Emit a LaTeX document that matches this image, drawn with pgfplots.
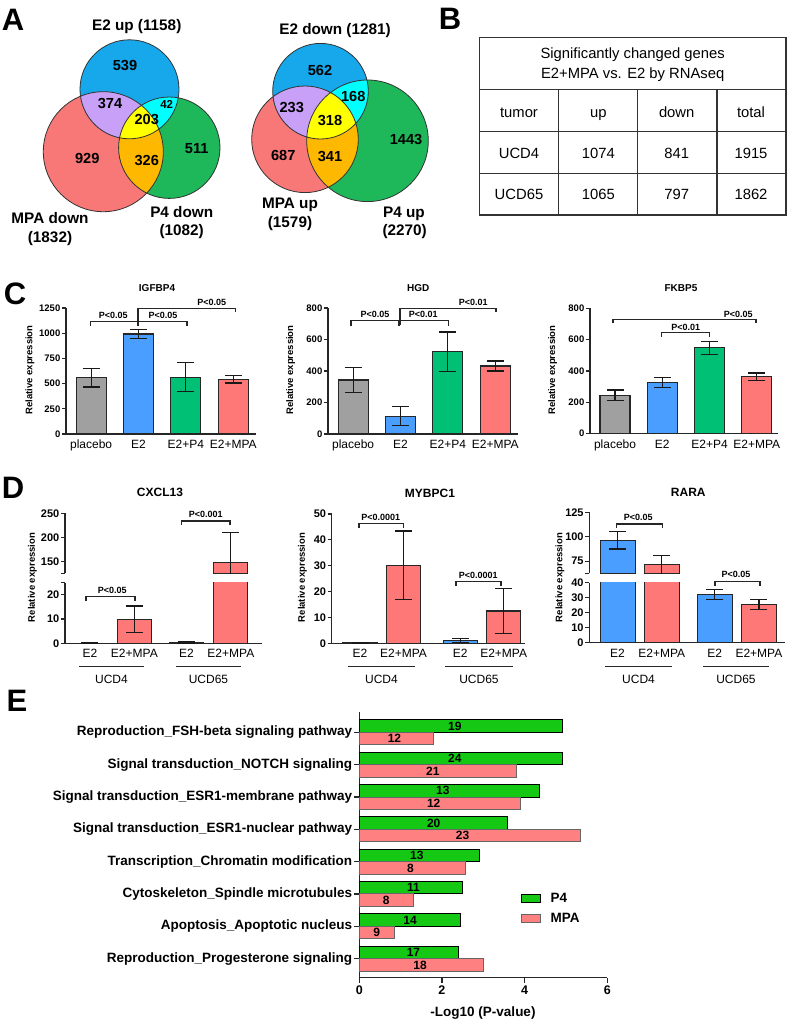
\documentclass[border=0pt]{standalone}
\usepackage{pgfplots}
\pgfplotsset{compat=1.18}
\usepackage{fontspec}
\setmainfont{Liberation Sans}
\definecolor{cgrey}{RGB}{160,160,160}
\definecolor{cblue}{RGB}{74,158,255}
\definecolor{cgreen}{RGB}{0,192,118}
\definecolor{csal}{RGB}{255,120,120}
\definecolor{egreen}{RGB}{20,200,20}
\definecolor{esal}{RGB}{255,128,128}
\definecolor{vblue}{RGB}{23,168,236}
\definecolor{vsal}{RGB}{248,120,120}
\definecolor{vgreen}{RGB}{30,184,90}
\definecolor{vpurple}{RGB}{200,160,248}
\definecolor{vyellow}{RGB}{255,255,0}
\definecolor{vcyan}{RGB}{0,255,255}
\definecolor{vorange}{RGB}{255,184,0}
\newcommand{\fz}[1]{\fontsize{#1}{#1}\selectfont}

\pgfplotsset{
 gp/.style={
  scale only axis, anchor=south west,
  axis x line*=bottom, axis y line*=left,
  axis line style={-, line width=1.4pt, black!85},
  ytick style={line width=1.2pt, black!85},
  xtick style={draw=none},
  tick align=outside, major tick length=4pt,
  /pgf/number format/assume math mode=true,
  /pgf/number format/1000 sep={},
  yticklabel style={font=\bfseries\fz{9.5}, inner sep=1.5pt},
  xticklabel style={font=\fz{12}, inner sep=2pt},
  enlargelimits=false, clip mode=individual,
 },
 gpd/.style={gp, yticklabel style={font=\bfseries\fz{11}, inner sep=1.5pt}},
 gbar/.style={ybar, bar width=#1, draw=black!85, line width=1.1pt,
   /pgfplots/error bars/y dir=both, /pgfplots/error bars/y explicit,
   /pgfplots/error bars/error bar style={line width=1.2pt, black!90},
   /pgfplots/error bars/error mark options={rotate=90, mark size=8.5pt, line width=1.2pt, black!90}},
}

\newcommand{\brk}[5]{\draw[line width=1.1pt, black!85] (#1,#3+#4) -- (#1,#3) -- (#2,#3) -- (#2,#3+#5);}
% text node: [font extras]{x}{y of cap centre}{size}{text}
\newcommand{\T}[5][]{\node[anchor=base, inner sep=0pt, font={#1\fz{#4}}] at (#2,#3+0.358*#4) {#5};}
\newcommand{\plab}[3]{\T[\bfseries]{#1}{#2}{9}{#3}}

\begin{document}
\begin{tikzpicture}
\begin{scope}[x=1pt,y=-1pt]
\useasboundingbox (0,0) rectangle (787,1020);
% panel letters
\T[\bfseries]{13}{19}{31}{A}
\T[\bfseries]{450}{18.5}{31}{B}
\T[\bfseries]{15}{293}{31}{C}
\T[\bfseries]{13}{487.5}{31}{D}
\T[\bfseries]{17}{700}{31}{E}

% ---------- Venn 1
\fill[vsal] (103.3,151.7) circle (60pt);
\fill[vgreen] (169.3,147.7) circle (50.7pt);
\fill[vblue] (129.5,89.3) circle (49.5pt);
\begin{scope}\clip (129.5,89.3) circle (49.5pt); \fill[vpurple] (103.3,151.7) circle (60pt); \end{scope}
\begin{scope}\clip (129.5,89.3) circle (49.5pt); \fill[vcyan] (169.3,147.7) circle (50.7pt); \end{scope}
\begin{scope}\clip (103.3,151.7) circle (60pt); \fill[vorange] (169.3,147.7) circle (50.7pt); \end{scope}
\begin{scope}\clip (129.5,89.3) circle (49.5pt); \clip (103.3,151.7) circle (60pt); \fill[vyellow] (169.3,147.7) circle (50.7pt); \end{scope}
\draw[line width=0.8pt, black!80] (103.3,151.7) circle (60pt) (169.3,147.7) circle (50.7pt) (129.5,89.3) circle (49.5pt);
\T[\bfseries]{125}{65}{14.6}{539} \T[\bfseries]{110}{103.3}{14.6}{374} \T[\bfseries]{166.7}{104}{11.5}{42}
\T[\bfseries]{146.7}{119}{14.6}{203} \T[\bfseries]{87.3}{158.3}{14.6}{929} \T[\bfseries]{146.7}{160}{14.6}{326}
\T[\bfseries]{196.7}{148.3}{14.6}{511}
\T[\bfseries]{136.7}{25}{15.3}{E2 up (1158)}
\T[\bfseries]{50}{218.3}{15.3}{MPA down} \T[\bfseries]{50}{237.3}{15.3}{(1832)}
\T[\bfseries]{181.7}{211.7}{15.3}{P4 down} \T[\bfseries]{181.7}{230}{15.3}{(1082)}

% ---------- Venn 2
\fill[vsal] (305,139.3) circle (53.3pt);
\fill[vgreen] (367.5,140.8) circle (60.8pt);
\fill[vblue] (320.5,91.2) circle (47.8pt);
\begin{scope}\clip (320.5,91.2) circle (47.8pt); \fill[vpurple] (305,139.3) circle (53.3pt); \end{scope}
\begin{scope}\clip (320.5,91.2) circle (47.8pt); \fill[vcyan] (367.5,140.8) circle (60.8pt); \end{scope}
\begin{scope}\clip (305,139.3) circle (53.3pt); \fill[vorange] (367.5,140.8) circle (60.8pt); \end{scope}
\begin{scope}\clip (320.5,91.2) circle (47.8pt); \clip (305,139.3) circle (53.3pt); \fill[vyellow] (367.5,140.8) circle (60.8pt); \end{scope}
\draw[line width=0.8pt, black!80] (305,139.3) circle (53.3pt) (367.5,140.8) circle (60.8pt) (320.5,91.2) circle (47.8pt);
\T[\bfseries]{320}{70}{14.6}{562} \T[\bfseries]{353.3}{96.7}{14.6}{168} \T[\bfseries]{291.7}{107.3}{14.6}{233}
\T[\bfseries]{330}{120}{14.6}{318} \T[\bfseries]{406}{139}{14.6}{1443} \T[\bfseries]{283.3}{155}{14.6}{687}
\T[\bfseries]{330}{156.7}{14.6}{341}
\T[\bfseries]{335}{29.3}{15.3}{E2 down (1281)}
\T[\bfseries]{290}{203.3}{15.3}{MPA up} \T[\bfseries]{290}{221.7}{15.3}{(1579)}
\T[\bfseries]{404}{211.7}{15.3}{P4 up} \T[\bfseries]{404.7}{230}{15.3}{(2270)}

% ---------- Table B
\draw[line width=1.3pt, black!80] (479.3,37.7) rectangle (786,215);
\draw[line width=1.3pt, black!80] (479.3,89.3) -- (786,89.3) (479.3,131.7) -- (786,131.7) (479.3,173.3) -- (786,173.3)
  (558.7,89.3) -- (558.7,215) (637.7,89.3) -- (637.7,215) (717,89.3) -- (717,215);
\T{632.7}{53.3}{14.8}{Significantly changed genes}
\T{632.7}{73.3}{14.8}{E2+MPA vs. E2 by RNAseq}
\T{519}{111.7}{14.8}{tumor} \T{598.3}{111.7}{14.8}{up} \T{676.7}{111.7}{14.8}{down} \T{751}{111.7}{14.8}{total}
\T{519}{153.3}{14.8}{UCD4} \T{598.3}{153.3}{14.8}{1074} \T{676.7}{153.3}{14.8}{841} \T{751}{153.3}{14.8}{1915}
\T{519}{194.3}{14.8}{UCD65} \T{598.3}{194.3}{14.8}{1065} \T{676.7}{194.3}{14.8}{797} \T{751}{194.3}{14.8}{1862}
\end{scope}

% ---------- Panel C
\begin{axis}[gp, at={(66pt,-434pt)}, width=190pt, height=126pt, xmin=-0.53, xmax=3.48,
  ymin=0, ymax=1250, ytick={0,250,...,1250}, xtick={0,1,2,3}, xticklabels={placebo,E2,E2+P4,E2+MPA}]
\addplot[fill=cgrey, gbar=30pt] coordinates {(0,558) +- (0,92)};
\addplot[fill=cblue, gbar=30pt] coordinates {(1,992) +- (0,47)};
\addplot[fill=cgreen, gbar=30pt] coordinates {(2,565) +- (0,145)};
\addplot[fill=csal, gbar=30pt] coordinates {(3,542) +- (0,36)};
\end{axis}
\begin{axis}[gp, at={(328pt,-434pt)}, width=190pt, height=126pt, xmin=-0.53, xmax=3.48,
  ymin=0, ymax=800, ytick={0,200,...,800}, xtick={0,1,2,3}, xticklabels={placebo,E2,E2+P4,E2+MPA}]
\addplot[fill=cgrey, gbar=30pt] coordinates {(0,343) +- (0,79)};
\addplot[fill=cblue, gbar=30pt] coordinates {(1,114) +- (0,60)};
\addplot[fill=cgreen, gbar=30pt] coordinates {(2,523) +- (0,125)};
\addplot[fill=csal, gbar=30pt] coordinates {(3,432) +- (0,32)};
\end{axis}
\begin{axis}[gp, at={(590pt,-433.5pt)}, width=188pt, height=125.2pt, xmin=-0.53, xmax=3.45,
  ymin=0, ymax=800, ytick={0,200,...,800}, xtick={0,1,2,3}, xticklabels={placebo,E2,E2+P4,E2+MPA}]
\addplot[fill=cgrey, gbar=30pt] coordinates {(0,245) +- (0,33)};
\addplot[fill=cblue, gbar=30pt] coordinates {(1,324) +- (0,32)};
\addplot[fill=cgreen, gbar=30pt] coordinates {(2,548) +- (0,42)};
\addplot[fill=csal, gbar=30pt] coordinates {(3,362) +- (0,25)};
\end{axis}

% ---------- Panel D: CXCL13 (broken axis)
\begin{axis}[gpd, at={(65pt,-643.3pt)}, width=197pt, height=60.6pt, xmin=-0.56, xmax=3.87,
  ymin=0, ymax=25, ytick={0,10,20}, extra y ticks={25}, extra y tick labels={},
  xtick={0,1,2.17,3.17}, xticklabels={E2,E2+MPA,E2,E2+MPA}]
\addplot[fill=cblue, gbar=34pt] coordinates {(0,0.05) +- (0,0.05)};
\addplot[fill=csal, gbar=34pt] coordinates {(1,9.9) +- (0,5.5)};
\addplot[fill=cblue, gbar=34pt] coordinates {(2.17,0.2) +- (0,0.3)};
\addplot[fill=csal, gbar=34pt] coordinates {(3.17,147) +- (0,63)};
\end{axis}
\begin{axis}[gpd, at={(65pt,-573.3pt)}, width=197pt, height=60pt, xmin=-0.56, xmax=3.87,
  ymin=125, ymax=250, ytick={150,200,250}, extra y ticks={125}, extra y tick labels={}, hide x axis]
\addplot[fill=csal, gbar=34pt] coordinates {(3.17,147) +- (0,63)};
\end{axis}
% MYBPC1
\begin{axis}[gpd, at={(331.7pt,-643.3pt)}, width=193.3pt, height=129.3pt, xmin=-0.65, xmax=3.79,
  ymin=0, ymax=50, ytick={0,10,...,50}, xtick={0,1,2.3,3.3}, xticklabels={E2,E2+MPA,E2,E2+MPA}]
\addplot[fill=cblue, gbar=34pt] coordinates {(0,0.1) +- (0,0.2)};
\addplot[fill=csal, gbar=34pt] coordinates {(1,30.2) +- (0,13.2)};
\addplot[fill=cblue, gbar=34pt] coordinates {(2.3,1.0) +- (0,0.8)};
\addplot[fill=csal, gbar=34pt] coordinates {(3.3,12.5) +- (0,8.6)};
\end{axis}
% RARA (broken axis)
\begin{axis}[gpd, at={(589.3pt,-642.7pt)}, width=195.7pt, height=60pt, xmin=-0.64, xmax=3.79,
  ymin=0, ymax=40, ytick={0,10,...,40},
  xtick={0,1,2.2,3.2}, xticklabels={E2,E2+MPA,E2,E2+MPA}]
\addplot[fill=cblue, gbar=35pt] coordinates {(0,95.9) += (0,9.6) -= (0,8.5)};
\addplot[fill=csal, gbar=35pt] coordinates {(1,71.2) +- (0,9.6)};
\addplot[fill=cblue, gbar=35pt] coordinates {(2.2,32) += (0,3.3) -= (0,3.1)};
\addplot[fill=csal, gbar=35pt] coordinates {(3.2,25.4) +- (0,3.2)};
\end{axis}
\begin{axis}[gpd, at={(589.3pt,-573.3pt)}, width=195.7pt, height=61pt, xmin=-0.64, xmax=3.79,
  ymin=62.5, ymax=125, ytick={75,100,125}, extra y ticks={62.5}, extra y tick labels={}, hide x axis]
\addplot[fill=cblue, gbar=35pt] coordinates {(0,95.9) += (0,9.6) -= (0,8.5)};
\addplot[fill=csal, gbar=35pt] coordinates {(1,71.2) +- (0,9.6)};
\end{axis}

% ---------- Panel E
\begin{axis}[scale only axis, anchor=south west, at={(359.3pt,-977.7pt)}, width=248pt, height=265.4pt,
  xmin=0, xmax=6, ymin=-0.59, ymax=7.62, enlargelimits=false, clip=false,
  axis x line*=bottom, axis y line*=left,
  axis line style={-, line width=1.4pt, black!85},
  tick style={line width=1.2pt, black!85}, tick align=outside, major tick length=5pt,
  xtick={0,2,4,6}, ytick={0,...,7},
  yticklabels={Reproduction\_Progesterone signaling, Apoptosis\_Apoptotic nucleus, Cytoskeleton\_Spindle microtubules, Transcription\_Chromatin modification, Signal transduction\_ESR1-nuclear pathway, Signal transduction\_ESR1-membrane pathway, Signal transduction\_NOTCH signaling, Reproduction\_FSH-beta signaling pathway},
  yticklabel style={font=\bfseries\fz{13.5}, inner sep=2pt},
  xticklabel style={font=\bfseries\fz{12.5}},
  /pgf/number format/assume math mode=true,
  legend style={at={(axis description cs:0.652,0.326)}, anchor=north west, draw=none, fill=none,
    font=\bfseries\fz{13.5}, row sep=5pt, inner sep=0pt, /tikz/every odd column/.append style={column sep=8pt}},
  legend cell align=left,
  legend image code/.code={\draw[#1] (0pt,-4.2pt) rectangle (18.4pt,4.2pt);}]
\addplot[xbar, bar width=12.5pt, bar shift=6.25pt, fill=egreen, draw=black, line width=1pt]
  coordinates {(4.91,7) (4.91,6) (4.36,5) (3.58,4) (2.91,3) (2.49,2) (2.46,1) (2.40,0)};
\addlegendentry{P4}
\addplot[xbar, bar width=12.5pt, bar shift=-6.25pt, fill=esal, draw=black!60, line width=1pt]
  coordinates {(1.79,7) (3.80,6) (3.91,5) (5.35,4) (2.58,3) (1.30,2) (0.85,1) (3.00,0)};
\addlegendentry{MPA}
\begin{scope}[every node/.style={font=\bfseries\fz{12}}]
\node[yshift=6.25pt] at (axis cs:2.31,7) {19};
\node[yshift=6.25pt] at (axis cs:2.31,6) {24};
\node[yshift=6.25pt] at (axis cs:2.02,5) {13};
\node[yshift=6.25pt] at (axis cs:1.80,4) {20};
\node[yshift=6.25pt] at (axis cs:1.39,3) {13};
\node[yshift=6.25pt] at (axis cs:1.31,2) {11};
\node[yshift=6.25pt] at (axis cs:1.23,1) {14};
\node[yshift=6.25pt] at (axis cs:1.31,0) {17};
\node[yshift=-6.25pt] at (axis cs:0.85,7) {12};
\node[yshift=-6.25pt] at (axis cs:1.78,6) {21};
\node[yshift=-6.25pt] at (axis cs:1.80,5) {12};
\node[yshift=-6.25pt] at (axis cs:2.50,4) {23};
\node[yshift=-6.25pt] at (axis cs:1.24,3) {8};
\node[yshift=-6.25pt] at (axis cs:0.65,2) {8};
\node[yshift=-6.25pt] at (axis cs:0.42,1) {9};
\node[yshift=-6.25pt] at (axis cs:1.47,0) {18};
\end{scope}
\end{axis}

% ---------- annotations (pixel coordinates)
\begin{scope}[x=1pt,y=-1pt]
\T[\bfseries]{157}{288.3}{10}{IGFBP4} \T[\bfseries]{418.3}{288.3}{10}{HGD} \T[\bfseries]{681}{288.3}{10}{FKBP5}
\T[\bfseries]{160}{492.3}{12}{CXCL13} \T[\bfseries]{430}{493.3}{12}{MYBPC1} \T[\bfseries]{688.3}{492.3}{12}{RARA}
\begin{scope}[every node/.style={font=\bfseries\fz{9.5}, rotate=90}]
\node at (30,370) {Relative expression}; \node at (290.7,370) {Relative expression}; \node at (552.7,370) {Relative expression};
\node at (32.3,577.5) {Relative expression}; \node at (302.3,577.5) {Relative expression}; \node at (560,577.5) {Relative expression};
\end{scope}
% C brackets
\brk{90.5}{138}{321.7}{4}{4} \brk{138}{187}{321.7}{4}{4} \brk{138}{235.5}{308.3}{17}{4}
\plab{113.3}{315}{P<0.05} \plab{163}{315}{P<0.05} \plab{211.7}{302.5}{P<0.05}
\brk{351}{399}{320.7}{5}{5} \brk{399}{448.3}{320.7}{5}{5} \brk{400}{496}{308.3}{17}{4}
\plab{375}{314.5}{P<0.05} \plab{423.3}{314.5}{P<0.01} \plab{473.3}{302.5}{P<0.01}
\brk{613}{756}{319.3}{4}{4} \brk{661.7}{709.3}{332.7}{4}{4}
\plab{738.3}{314}{P<0.05} \plab{685.7}{327.5}{P<0.01}
% D brackets
\brk{86}{135}{596.7}{4}{4} \plab{112.3}{590}{P<0.05}
\brk{181.7}{230}{521}{4}{4} \plab{205.7}{514.5}{P<0.001}
\brk{359}{403.3}{523.3}{4.4}{4.4} \plab{380.7}{517}{P<0.0001}
\brk{456}{501}{581.7}{4.3}{4.3} \plab{478.3}{575.5}{P<0.0001}
\brk{616.7}{662.3}{524}{4.3}{4.3} \plab{638.3}{517}{P<0.05}
\brk{715}{760}{581.7}{4}{4} \plab{736}{574.5}{P<0.05}
% D group lines
\draw[line width=1.2pt, black!85] (79,666.7) -- (144,666.7) (176,666.7) -- (241,666.7)
  (348,666.7) -- (415,666.7) (445,666.7) -- (513,666.7)
  (605,666.7) -- (672,666.7) (703,666.7) -- (769,666.7);
\T{111.5}{679}{12}{UCD4} \T{208.5}{679}{12}{UCD65}
\T{381.5}{679}{12}{UCD4} \T{479}{679}{12}{UCD65}
\T{638.5}{679}{12}{UCD4} \T{736}{679}{12}{UCD65}
\T[\bfseries]{483}{1011.7}{13.5}{-Log10 (P-value)}
\end{scope}
\end{tikzpicture}
\end{document}
